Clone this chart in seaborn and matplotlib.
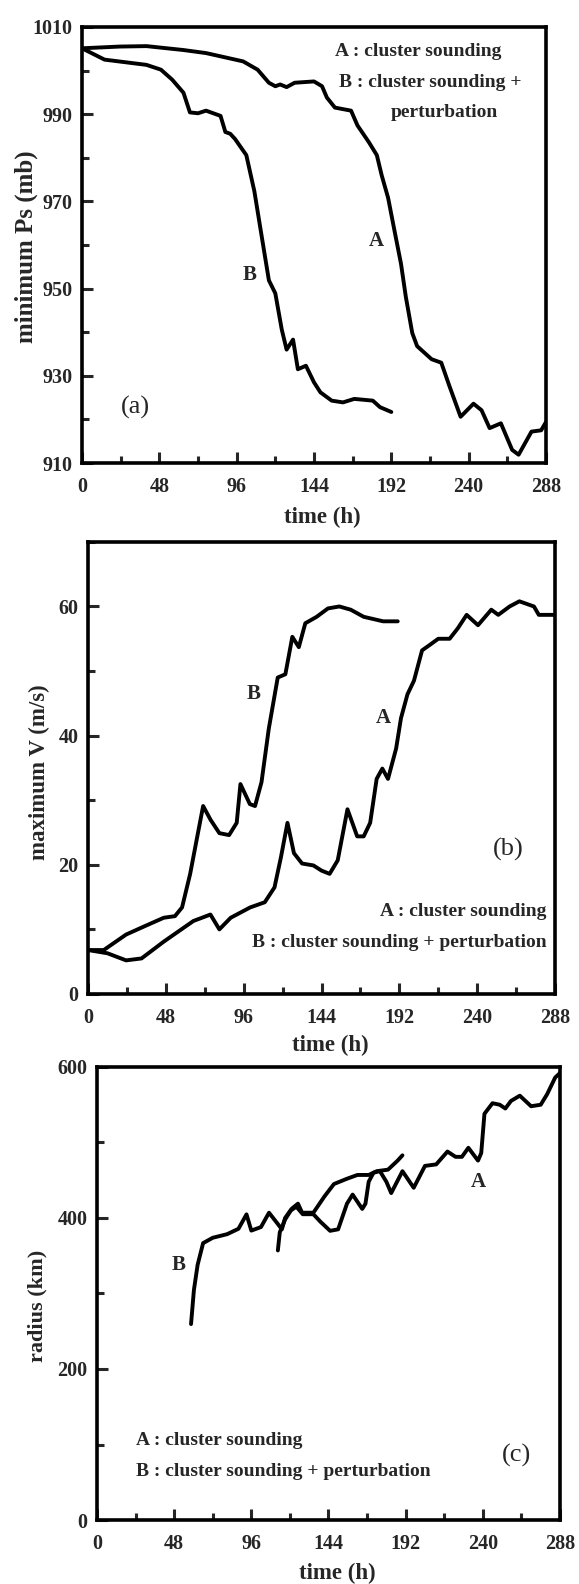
import matplotlib
matplotlib.use("Agg")
import matplotlib.pyplot as plt
from matplotlib.ticker import MultipleLocator
import seaborn as sns

# ---- (a) minimum surface pressure ----
pa_time_A = [0, 23.5, 40, 63, 77, 100, 109, 116, 120, 123, 127, 132, 144, 149, 152, 157, 167, 171,
             178, 183, 186, 190, 194, 198, 201, 205, 208, 217, 223, 228, 235, 243, 248, 253, 260,
             267, 271, 279, 285, 288]
pa_ps_A = [1005.1, 1005.5, 1005.6, 1004.7, 1004.0, 1002.1, 1000.2, 997.2, 996.4, 996.8, 996.2,
           997.2, 997.5, 996.4, 993.8, 991.5, 990.8, 987.4, 983.6, 980.6, 976.0, 970.8, 963.2,
           955.7, 948.1, 939.8, 936.8, 933.8, 933.0, 927.7, 920.6, 923.6, 922.1, 918.0, 919.1,
           913.0, 911.9, 917.2, 917.5, 919.4]
pa_time_B = [0, 14, 40, 49, 56, 63, 67, 72, 77, 86, 89, 92, 95, 102, 107, 111, 116, 120, 124, 127,
             131, 134, 139, 144, 148, 155, 162, 169, 180.5, 185, 192]
pa_ps_B = [1005.1, 1002.5, 1001.3, 1000.2, 997.9, 994.9, 990.4, 990.2, 990.8, 989.6, 985.9, 985.5,
           984.3, 980.6, 972.3, 963.2, 951.9, 948.9, 940.6, 936.0, 938.3, 931.5, 932.3, 928.5,
           926.2, 924.3, 923.9, 924.7, 924.3, 922.8, 921.7]
pa_yticks = [910, 930, 950, 970, 990, 1010]

# ---- (b) maximum wind speed ----
pb_time_A = [0, 12, 23.5, 33, 46.7, 65, 75.5, 81, 88, 100, 109, 115, 119, 123, 127, 132, 139, 144,
             149, 154, 160, 166, 170, 174, 178, 181.5, 185, 190, 193, 197, 201, 206, 210.5, 216,
             223, 228, 233.5, 240.5, 248.7, 253, 260, 266, 275, 278, 288]
pb_v_A = [6.8, 6.3, 5.2, 5.5, 8.1, 11.3, 12.3, 10.0, 11.8, 13.4, 14.2, 16.5, 21.2, 26.5, 21.8,
          20.2, 19.9, 19.1, 18.6, 20.7, 28.6, 24.4, 24.4, 26.5, 33.3, 34.9, 33.3, 38.0, 42.7,
          46.4, 48.5, 53.2, 54.0, 55.0, 55.0, 56.6, 58.7, 57.1, 59.5, 58.7, 60.0, 60.8, 60.0,
          58.7, 58.7]
pb_time_B = [0, 9.7, 23.5, 35, 46.7, 53.6, 58, 63, 67.4, 71, 75.5, 81, 87, 91.7, 94, 99.8, 103,
             107, 111.5, 117, 121.7, 126, 130, 134, 141, 148, 155, 162, 170, 182, 191]
pb_v_B = [6.8, 6.8, 9.2, 10.5, 11.8, 12.05, 13.4, 18.6, 24.4, 29.1, 27.0, 24.9, 24.6, 26.5, 32.5,
          29.4, 29.1, 32.8, 41.1, 49.0, 49.5, 55.3, 53.7, 57.4, 58.4, 59.7, 60.0, 59.5, 58.4,
          57.7, 57.7]
pb_yticks = [0, 20, 40, 60]

# ---- (c) storm radius ----
pc_time_A = [112.5, 113.7, 117, 120.6, 124, 128, 134.6, 139, 145, 150, 155.5, 159, 165, 167, 169,
             172, 176, 180, 183, 190, 197, 204, 211, 218, 223, 227, 231, 237, 239, 241, 246,
             250.5, 254, 257.5, 263, 270, 276, 280, 285, 288]
pc_r_A = [357, 381, 398, 410, 415, 405, 405, 395, 383, 385, 419, 431, 412, 419, 448, 460, 462,
          448, 433, 462, 440, 469, 471, 488, 481, 481, 493, 476, 486, 538, 552, 550, 545, 555,
          562, 548, 550, 564, 586, 592]
pc_time_B = [58.5, 60.3, 62.6, 66, 72, 81, 88, 93, 96, 102, 107, 112.5, 115, 117, 121, 125, 127.6,
             134.6, 141.5, 147.4, 155.5, 162, 169, 174, 181, 187, 190]
pc_r_B = [259.5, 304.8, 338, 366.7, 373.8, 378.6, 385.7, 404.8, 383.3, 388, 407, 392, 385, 400,
          412, 419, 407, 407, 428.6, 445, 452, 457, 457, 462, 464, 476, 483]
pc_yticks = [0, 200, 400, 600]

time_ticks = [0, 48, 96, 144, 192, 240, 288]
legend_A = "A : cluster sounding"
legend_B = "B : cluster sounding + perturbation"

sns.set_theme(style="white")
plt.rcParams["font.family"] = ["Liberation Serif", "DejaVu Serif"]
plt.rcParams["axes.linewidth"] = 2.6

fig = plt.figure(figsize=(5.79, 15.84), dpi=100)
ax_a = fig.add_axes([0.1416, 0.7077, 0.8014, 0.2753])
ax_b = fig.add_axes([0.1520, 0.3725, 0.8066, 0.2854])
ax_c = fig.add_axes([0.1675, 0.0404, 0.7997, 0.2860])

LW = 2.8


def draw(ax, t, y):
    sns.lineplot(x=t, y=y, ax=ax, color="black", linewidth=LW, sort=False,
                 estimator=None, solid_joinstyle="round", solid_capstyle="round")


def style(ax, ylim, yticks, yminor, ylabel, ylab_xy, xlab_xy, ylabel_size):
    ax.set_xlim(0, 288)
    ax.set_ylim(*ylim)
    ax.set_xticks(time_ticks)
    ax.xaxis.set_minor_locator(MultipleLocator(24))
    ax.set_yticks(yticks)
    ax.yaxis.set_minor_locator(MultipleLocator(yminor))
    ax.tick_params(axis="both", which="major", direction="in", length=8, width=2.2,
                   labelsize=14.5, bottom=True, left=True, top=False, right=False)
    ax.tick_params(axis="x", which="major", pad=10)
    ax.tick_params(axis="y", which="major", pad=7)
    ax.tick_params(axis="both", which="minor", direction="in", length=5, width=2.2,
                   bottom=True, left=True, top=False, right=False)
    for lab in ax.get_xticklabels() + ax.get_yticklabels():
        lab.set_fontweight("bold")
    for sp in ax.spines.values():
        sp.set_color("black")
        sp.set_linewidth(2.6)
    ax.set_xlabel("time (h)", fontsize=16.5, fontweight="bold")
    ax.set_ylabel(ylabel, fontsize=ylabel_size, fontweight="bold")
    ax.xaxis.set_label_coords(*xlab_xy)
    ax.yaxis.set_label_coords(*ylab_xy)
    ax.xaxis.label.set_va("center")
    ax.yaxis.label.set_va("center")


# (a)
draw(ax_a, pa_time_A, pa_ps_A)
draw(ax_a, pa_time_B, pa_ps_B)
style(ax_a, (910, 1010), pa_yticks, 10, "minimum Ps (mb)", (-0.12, 0.495), (0.517, -0.126), 18)
ax_a.text(0.545, 0.943, legend_A, transform=ax_a.transAxes, fontsize=14, fontweight="bold",
          ha="left", va="center")
ax_a.text(0.553, 0.872, "B : cluster sounding +", transform=ax_a.transAxes, fontsize=14,
          fontweight="bold", ha="left", va="center")
ax_a.text(0.781, 0.803, "perturbation", transform=ax_a.transAxes, fontsize=14,
          fontweight="bold", ha="center", va="center")
ax_a.text(183, 961, "A", fontsize=15, fontweight="bold", ha="center", va="center")
ax_a.text(104, 953, "B", fontsize=15, fontweight="bold", ha="center", va="center")
ax_a.text(33, 922.8, "(a)", fontsize=19, ha="center", va="center")

# (b)
draw(ax_b, pb_time_A, pb_v_A)
draw(ax_b, pb_time_B, pb_v_B)
style(ax_b, (0, 70), pb_yticks, 10, "maximum V (m/s)", (-0.103, 0.491), (0.518, -0.113), 16.5)
ax_b.text(283, 12.8, legend_A, fontsize=14, fontweight="bold", ha="right", va="center")
ax_b.text(283, 7.9, legend_B, fontsize=14, fontweight="bold", ha="right", va="center")
ax_b.text(182, 42.7, "A", fontsize=15, fontweight="bold", ha="center", va="center")
ax_b.text(102, 46.4, "B", fontsize=15, fontweight="bold", ha="center", va="center")
ax_b.text(259, 22.3, "(b)", fontsize=19, ha="center", va="center")

# (c)
draw(ax_c, pc_time_A, pc_r_A)
draw(ax_c, pc_time_B, pc_r_B)
style(ax_c, (0, 600), pc_yticks, 100, "radius (km)", (-0.128, 0.472), (0.518, -0.118), 16)
ax_c.text(24.4, 105, legend_A, fontsize=14, fontweight="bold", ha="left", va="center")
ax_c.text(24.4, 64, legend_B, fontsize=14, fontweight="bold", ha="left", va="center")
ax_c.text(237, 448, "A", fontsize=15, fontweight="bold", ha="center", va="center")
ax_c.text(51, 338, "B", fontsize=15, fontweight="bold", ha="center", va="center")
ax_c.text(261, 86, "(c)", fontsize=19, ha="center", va="center")

fig.savefig("out.png", dpi=100, facecolor="white")
